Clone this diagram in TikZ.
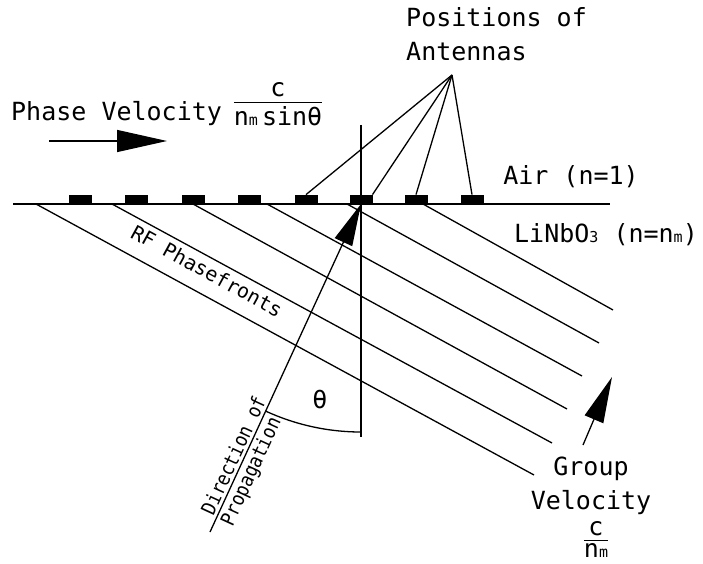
\documentclass[tikz,border=0pt]{standalone}
\usepackage{graphicx}
\usepackage{fontspec}
\setmainfont{DejaVu Sans Mono}
\usetikzlibrary{arrows.meta,positioning}

\newcommand{\smallsub}[1]{{\fontsize{15}{15}\selectfont #1}}
% stacked fraction: #1 = gap from bar to lower baseline
\newcommand{\vfrac}[3]{{\renewcommand\arraystretch{0.5}\setlength{\arrayrulewidth}{1.2pt}%
  \begin{tabular}[t]{@{}c@{}}#2\\\hline\rule{0pt}{#1}#3\end{tabular}}}

\tikzset{
  txt/.style={font=\fontsize{25}{34}\selectfont, inner sep=1pt},
  txtsmall/.style={font=\fontsize{20}{24}\selectfont, inner sep=3pt},
  wire/.style={line width=1.3pt},
  antenna/.style={fill=black, minimum width=23pt, minimum height=10pt, inner sep=0pt, outer sep=0pt},
}

\begin{document}
\begin{tikzpicture}[x=1pt,y=-1pt]
  \useasboundingbox (0,0) rectangle (703,564);
  % Surface
  \draw[wire] (13,204) -- (610,204);
  \coordinate (hit) at (361,204);
  % Antennas
  \foreach \i/\x in {1/80,2/136,3/193,4/249,5/306,6/361,7/416,8/472}{
    \node[antenna,anchor=south] (ant\i) at (\x,204.6) {};
  }
  % Phasefronts
  \foreach \sx/\ex/\ey in {36/534/475,112/552/443,193/567/409,267/582/376,347/599/343,423/613/310}{
    \draw[wire] (\sx,204) -- (\ex,\ey);
  }
  \node[txt,font=\fontsize{20}{24}\selectfont,rotate=-28.6] (rf) at (207,271) {RF Phasefronts};
  % Normal and direction of propagation
  \draw[wire] (361,125) -- (361,437);
  \coordinate (tail) at (210,532);
  \draw[wire,-{Triangle[length=42pt,width=19pt]}] (tail) -- (hit);
  \path (tail) -- (hit)
    node[txtsmall,pos=0.22,sloped,above] (dir) {\scalebox{0.88}[1]{Direction of}}
    node[txtsmall,pos=0.20,sloped,below] (prop) {\scalebox{0.88}[1]{Propagation}};
  % Angle
  \draw[wire] (361,432) arc[start angle=90,end angle=114.7,radius=228];
  \node[txt] (theta) at (320,400) {θ};
  % Antenna label
  \node[txt,align=left,anchor=north west] (pos) at (405,6) {Positions of\\Antennas};
  \coordinate (apex) at (452,75);
  \foreach \i/\a in {5/north,6/north east,7/north,8/north}{
    \draw[wire] (apex) -- (ant\i.\a);
  }
  % Media
  \node[txt] (air) at (571,177) {Air (n=1)};
  \node[txt] (crys) at (606,235) {LiNbO\smallsub{3} (n=n\smallsub{m})};
  % Phase velocity
  \node[txt,anchor=base west] (pv) at (10,121) {Phase Velocity};
  \node[txt,inner sep=0pt,anchor=base] (pvfrac) at (278,97) {\vfrac{22pt}{c}{n\smallsub{m}\,sinθ}};
  \coordinate (pvs) at (49,141);
  \coordinate (pve) at (167,141);
  \draw[wire,-{Triangle[length=50pt,width=22pt]}] (pvs) -- (pve);
  % Group velocity
  \coordinate (gvs) at (583,445);
  \coordinate (gve) at (612,377);
  \draw[wire,-{Triangle[length=46pt,width=20pt]}] (gvs) -- (gve);
  \node[txt,align=center] (gv) at (591,486) {Group\\Velocity};
  \node[txt,inner sep=0pt,anchor=base] (gvfrac) at (596,535) {\vfrac{16pt}{c}{n\smallsub{m}}};
\end{tikzpicture}
\end{document}
